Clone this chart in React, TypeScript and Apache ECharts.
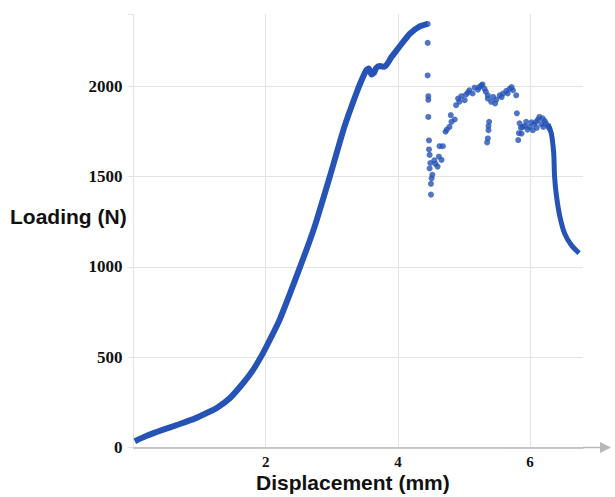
import React, { useEffect, useRef } from "react";
import * as echarts from "echarts";

const BLUE = "#2553b6";

// Main continuous loading curve (displacement mm, load N)
const mainCurve: [number, number][] = [
  [0.02, 35], [0.2, 65], [0.45, 99], [0.7, 130], [0.95, 164], [1.1, 190],
  [1.26, 219], [1.46, 274], [1.66, 357], [1.81, 430], [1.94, 510],
  [2.04, 580], [2.21, 707], [2.52, 1000], [2.74, 1223], [2.97, 1500],
  [3.19, 1775], [3.37, 1960], [3.45, 2033], [3.52, 2088], [3.56, 2098],
  [3.6, 2065], [3.64, 2075], [3.67, 2100], [3.72, 2112], [3.8, 2108],
  [3.9, 2160], [3.98, 2199], [4.1, 2255], [4.18, 2291], [4.33, 2331],
  [4.45, 2345],
];

// Scattered points after first failure
const scatterPts: [number, number][] = [
  [4.45, 2345], [4.45, 2240], [4.45, 2060], [4.46, 1945], [4.46, 1925],
  [4.46, 1830], [4.47, 1700], [4.47, 1650], [4.48, 1620], [4.48, 1545],
  [4.5, 1460], [4.51, 1490], [4.52, 1510], [4.5, 1400], [4.49, 1575],
  [4.55, 1590], [4.57, 1570], [4.6, 1555], [4.63, 1668], [4.66, 1592],
  [4.68, 1668], [4.62, 1610], [4.72, 1748], [4.74, 1760], [4.78, 1775],
  [4.81, 1803], [4.8, 1840], [4.86, 1816], [4.88, 1895], [4.91, 1932],
  [4.93, 1915], [4.96, 1945], [5.01, 1923], [5.03, 1954], [5.06, 1965],
  [5.08, 1978], [5.13, 1960], [5.16, 1992], [5.21, 1981], [5.23, 1995],
  [5.26, 2004], [5.28, 2010], [5.31, 1986], [5.33, 1970],
  [5.36, 1950], [5.38, 1803], [5.37, 1757], [5.36, 1711], [5.35, 1689],
  [5.37, 1780], [5.36, 1932], [5.41, 1914], [5.44, 1941], [5.47, 1905],
  [5.49, 1926], [5.54, 1950], [5.57, 1940], [5.59, 1960], [5.64, 1974],
  [5.66, 1960], [5.69, 1986], [5.72, 1995], [5.74, 1978], [5.79, 1950],
  [5.8, 1850], [5.84, 1795], [5.82, 1702], [5.83, 1740], [5.87, 1738],
  [5.86, 1770], [5.89, 1775], [5.94, 1803], [5.92, 1780], [5.96, 1760],
  [5.99, 1775], [6.02, 1800], [6.04, 1757], [6.06, 1790], [6.09, 1803],
  [6.1, 1770], [6.12, 1815], [6.14, 1830], [6.17, 1790], [6.19, 1822],
  [6.2, 1775], [6.22, 1808], [6.24, 1795], [6.27, 1780], [6.29, 1767],
];

// Final descending tail
const tailCurve: [number, number][] = [
  [6.27, 1790], [6.32, 1740], [6.35, 1660], [6.36, 1610], [6.37, 1500],
  [6.4, 1389], [6.45, 1279], [6.52, 1187], [6.62, 1122], [6.74, 1076],
];

const yTicks = [0, 500, 1000, 1500, 2000];
const xTicks = [2, 4, 6];

export default function App() {
  const ref = useRef<HTMLDivElement>(null);
  useEffect(() => {
    if (!ref.current) return;
    const chart = echarts.init(ref.current, null, { renderer: "svg" });
    const grid = "#e4e4e4";
    chart.setOption({
      animation: false,
      backgroundColor: "#ffffff",
      grid: { left: 133.5, right: 32, top: 14, bottom: 49.5 },
      xAxis: {
        type: "value",
        min: 0,
        max: 6.8,
        interval: 2,
        axisLine: { show: true, lineStyle: { color: "#b8b8b8", width: 1.5 } },
        axisTick: { show: false },
        axisLabel: {
          color: "#111",
          fontFamily: "Liberation Serif",
          fontWeight: "bold",
          fontSize: 15,
          lineHeight: 15,
          margin: 7,
          formatter: (v: number) => (xTicks.includes(v) ? String(v) : ""),
        },
        splitLine: {
          show: true,
          lineStyle: { color: [grid, grid, grid, grid, "transparent"], width: 1.2 },
        },
      },
      yAxis: {
        type: "value",
        min: 0,
        max: 2400,
        interval: 500,
        axisLine: { show: false },
        axisTick: { show: true, length: 6, lineStyle: { color: grid } },
        axisLabel: {
          color: "#111",
          fontFamily: "Liberation Serif",
          fontWeight: "bold",
          fontSize: 17,
          margin: 11,
          formatter: (v: number) => (yTicks.includes(v) ? String(v) : ""),
        },
        splitLine: {
          show: true,
          lineStyle: {
            color: [grid, grid, grid, grid, grid, "transparent"],
            width: 1.2,
          },
        },
      },
      series: [
        {
          type: "line",
          data: mainCurve,
          smooth: 0.2,
          showSymbol: false,
          lineStyle: { color: BLUE, width: 6 },
          z: 3,
        },
        {
          type: "scatter",
          data: scatterPts,
          symbolSize: 6,
          itemStyle: { color: BLUE },
          z: 3,
        },
        {
          type: "line",
          data: tailCurve,
          smooth: 0.3,
          showSymbol: false,
          lineStyle: { color: BLUE, width: 5 },
          z: 3,
        },
      ],
      graphic: [
        {
          type: "line",
          shape: { x1: 583, y1: 447.5, x2: 602, y2: 447.5 },
          style: { stroke: "#b8b8b8", lineWidth: 1.5 },
        },
        {
          type: "polygon",
          shape: { points: [[600, 442], [611, 447.5], [600, 453]] },
          style: { fill: "#b8b8b8" },
        },
        {
          type: "text",
          left: 10,
          top: 206,
          style: {
            text: "Loading (N)",
            font: "bold 21px 'Liberation Sans', Arial, sans-serif",
            fill: "#111",
          },
        },
        {
          type: "text",
          left: 256,
          top: 472,
          style: {
            text: "Displacement (mm)",
            font: "bold 21px 'Liberation Sans', Arial, sans-serif",
            fill: "#111",
          },
        },
      ],
    });
    return () => chart.dispose();
  }, []);
  return (
    <div
      ref={ref}
      style={{ position: "absolute", left: 0, top: 0, width: 615, height: 497 }}
    />
  );
}
